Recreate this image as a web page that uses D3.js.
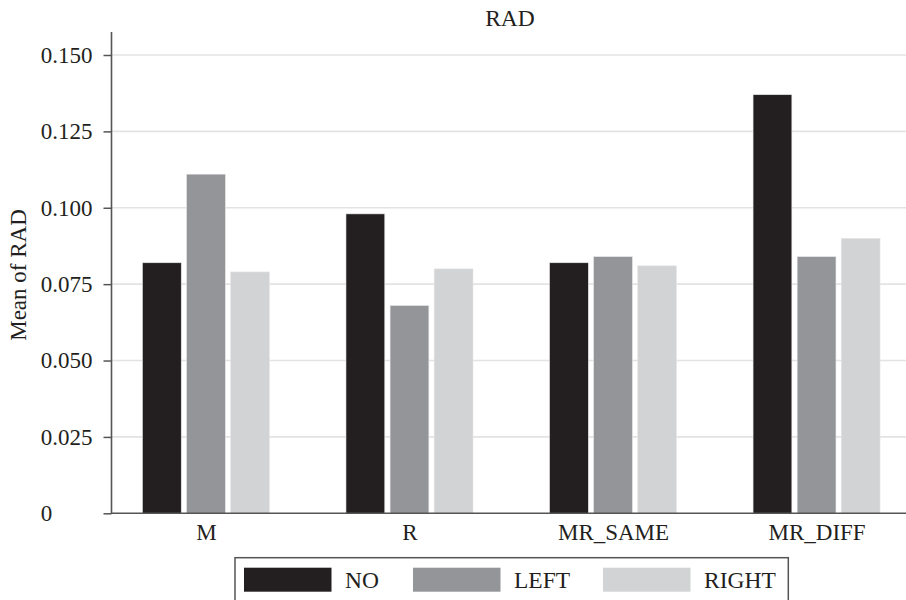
<!DOCTYPE html>
<html>
<head>
<meta charset="utf-8">
<script src="https://cdn.jsdelivr.net/npm/d3@7"></script>
<style>
  html, body { margin: 0; padding: 0; background: #fff; }
  svg { display: block; font-family: "Liberation Serif", "DejaVu Serif", serif; }
</style>
</head>
<body>
<svg id="chart" width="906" height="600"></svg>
<script>
const categories = ["M", "R", "MR_SAME", "MR_DIFF"];
const seriesNames = ["NO", "LEFT", "RIGHT"];
const valuesNO    = [0.082, 0.098, 0.082, 0.137];
const valuesLEFT  = [0.111, 0.068, 0.084, 0.084];
const valuesRIGHT = [0.079, 0.080, 0.081, 0.090];
const yTicks = [0, 0.025, 0.05, 0.075, 0.1, 0.125, 0.15];
const yTickLabels = ["0", "0.025", "0.050", "0.075", "0.100", "0.125", "0.150"];
const title = "RAD";
const yTitle = "Mean of RAD";
const colors = ["#231f20", "#939598", "#d1d3d4"];

(function () {
const seriesValues = [valuesNO, valuesLEFT, valuesRIGHT];
const data = categories.map((c, i) => ({
  cat: c,
  vals: seriesNames.map((s, j) => ({ s, v: seriesValues[j][i] }))
}));

const svg = d3.select("#chart");
const pLeft = 111.5, pRight = 911, pTop = 32, pBottom = 513.3;

const y = d3.scaleLinear().domain([0, 0.15]).range([pBottom, 55]);
const x0 = d3.scalePoint().domain(categories).range([pLeft, pRight]).padding(0.464);
const x1 = d3.scaleBand().domain(seriesNames).range([-63.5, 63.5]).paddingInner(0.12);
const color = d3.scaleOrdinal().domain(seriesNames).range(colors);

// gridlines
svg.append("g").selectAll("line").data(yTicks.filter(t => t > 0)).join("line")
  .attr("x1", pLeft).attr("x2", pRight)
  .attr("y1", d => y(d)).attr("y2", d => y(d))
  .attr("stroke", "#e3e3e3").attr("stroke-width", 1.6);

// bars
const g = svg.append("g").selectAll("g").data(data).join("g")
  .attr("transform", d => `translate(${x0(d.cat)},0)`);
g.selectAll("rect").data(d => d.vals).join("rect")
  .attr("x", d => x1(d.s))
  .attr("width", x1.bandwidth())
  .attr("y", d => y(d.v))
  .attr("height", d => y(0) - y(d.v))
  .attr("fill", d => color(d.s))
  .attr("stroke", "#e6e6e6").attr("stroke-width", 0.6);

// y axis
const yAxis = d3.axisLeft(y).tickValues(yTicks).tickSize(8)
  .tickFormat((d, i) => yTickLabels[i]);
const ya = svg.append("g").attr("transform", `translate(${pLeft},0)`).call(yAxis);
ya.select(".domain").remove();
ya.selectAll(".tick line").attr("stroke", "#555").attr("stroke-width", 1.5);
ya.selectAll(".tick text")
  .attr("x", 40.7 - pLeft).attr("text-anchor", "start")
  .attr("font-size", "23px").attr("fill", "#231f20")
  .attr("font-family", "Liberation Serif, serif");
svg.append("line").attr("x1", pLeft).attr("x2", pLeft).attr("y1", pTop).attr("y2", pBottom + 0.8)
  .attr("stroke", "#555").attr("stroke-width", 1.6);

// x axis
const xAxis = d3.axisBottom(x0).tickSize(0).tickPadding(10);
const xa = svg.append("g").attr("transform", `translate(0,${pBottom})`).call(xAxis);
xa.select(".domain").remove();
xa.selectAll(".tick text").attr("font-size", "23px").attr("fill", "#231f20")
  .attr("font-family", "Liberation Serif, serif").attr("dy", "0.71em");
svg.append("line").attr("x1", pLeft).attr("x2", pRight).attr("y1", pBottom).attr("y2", pBottom)
  .attr("stroke", "#555").attr("stroke-width", 1.6);

// title
svg.append("text").attr("x", 510).attr("y", 26).attr("text-anchor", "middle")
  .attr("font-size", "23.5px").attr("fill", "#231f20").text(title);

// y title
svg.append("text").attr("transform", "translate(26,275) rotate(-90)")
  .attr("text-anchor", "middle").attr("font-size", "23px").attr("fill", "#231f20").text(yTitle);

// legend
const lg = svg.append("g");
lg.append("rect").attr("x", 235).attr("y", 557.7).attr("width", 553.3).attr("height", 70)
  .attr("fill", "none").attr("stroke", "#555").attr("stroke-width", 1.5);
const legX = [244, 413, 603];
const li = lg.selectAll("g").data(seriesNames).join("g")
  .attr("transform", (d, i) => `translate(${legX[i]},0)`);
li.append("rect").attr("x", 0).attr("y", 567.7).attr("width", 87.5).attr("height", 24)
  .attr("fill", d => color(d));
li.append("text").attr("x", 101).attr("y", 588.3).attr("font-size", "23.5px")
  .attr("fill", "#231f20").text(d => d);
})();
</script>
</body>
</html>
